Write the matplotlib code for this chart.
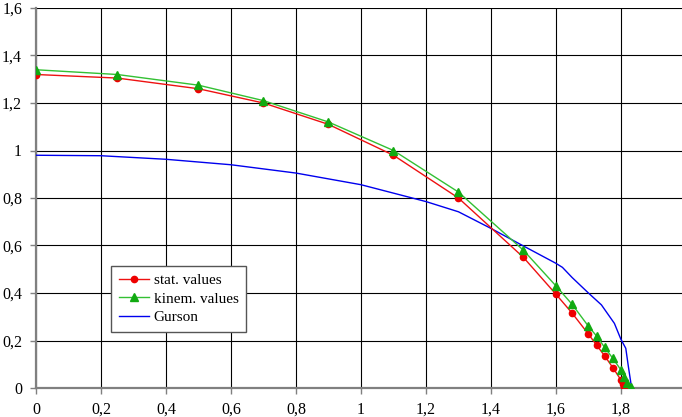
import numpy as np
import matplotlib
matplotlib.use("Agg")
import matplotlib.pyplot as plt
from matplotlib.ticker import FuncFormatter

# stat. values (red circles)
stat_x = [0, 0.25, 0.5, 0.7, 0.9, 1.1, 1.3, 1.5, 1.6, 1.65, 1.7, 1.725, 1.75, 1.775, 1.8, 1.805, 1.81]
stat_y = [1.32, 1.305, 1.26, 1.2, 1.11, 0.98, 0.80, 0.55, 0.395, 0.315, 0.227, 0.181, 0.135, 0.086, 0.034, 0.015, 0.003]

# kinem. values (green triangles)
kin_x = [0, 0.25, 0.5, 0.7, 0.9, 1.1, 1.3, 1.5, 1.6, 1.65, 1.7, 1.725, 1.75, 1.775, 1.8, 1.81, 1.82, 1.83]
kin_y = [1.34, 1.32, 1.275, 1.21, 1.12, 1.0, 0.825, 0.58, 0.43, 0.352, 0.26, 0.219, 0.171, 0.125, 0.076, 0.048, 0.022, 0.003]

# Gurson curve
gur_x = [0, 0.2, 0.4, 0.6, 0.8, 1.0, 1.2, 1.3, 1.4, 1.5, 1.6, 1.62, 1.65, 1.7, 1.74, 1.78, 1.80, 1.815, 1.823, 1.833]
gur_y = [0.98, 0.978, 0.963, 0.94, 0.905, 0.856, 0.785, 0.742, 0.672, 0.598, 0.525, 0.508, 0.465, 0.40, 0.35, 0.272, 0.205, 0.167, 0.09, 0.0]

plt.rcParams["font.family"] = ["Liberation Serif", "DejaVu Serif"]
plt.rcParams["font.size"] = 11

fig = plt.figure(figsize=(6.82, 4.17), dpi=100)
ax = fig.add_axes([36 / 682, 1 - 388 / 417, 1 - 36 / 682, 380 / 417])

ax.plot(stat_x, stat_y, color="#ee1111", lw=1.0, marker="o", markersize=4.5,
        markerfacecolor="#ee0000", markeredgecolor="#ee0000", label="stat. values", zorder=3)
ax.plot(kin_x, kin_y, color="#33c033", lw=1.0, marker="^", markersize=5.5,
        markerfacecolor="#11aa11", markeredgecolor="#11aa11", label="kinem. values", zorder=4)
ax.plot(gur_x, gur_y, color="#0000ee", lw=1.0, label="Gurson", zorder=2)

ax.set_xlim(0, 1.988)
ax.set_ylim(0, 1.6)
ax.set_xticks(np.arange(0, 1.81, 0.2))
ax.set_yticks(np.arange(0, 1.61, 0.2))

fmt = FuncFormatter(lambda v, p: ("%g" % round(v, 2)).replace(".", ","))
ax.xaxis.set_major_formatter(fmt)
ax.yaxis.set_major_formatter(fmt)

ax.grid(True, color="black", lw=0.8)
ax.set_axisbelow(True)
for s in ["top", "right"]:
    ax.spines[s].set_visible(False)
for s in ["left", "bottom"]:
    ax.spines[s].set_color("#808080")
    ax.spines[s].set_linewidth(1.6)
    ax.spines[s].set_zorder(1)
ax.tick_params(direction="out", length=4, width=1, color="#808080", labelsize=11.5, pad=6)

leg = ax.legend(loc="upper left", bbox_to_anchor=(0.116, 0.321), borderaxespad=0,
                fancybox=False, edgecolor="#555555", framealpha=1, fontsize=11,
                handlelength=2.0, handletextpad=0.3, labelspacing=0.3, borderpad=0.5)
leg.get_frame().set_linewidth(1.0)

fig.savefig("out.png", dpi=100)
